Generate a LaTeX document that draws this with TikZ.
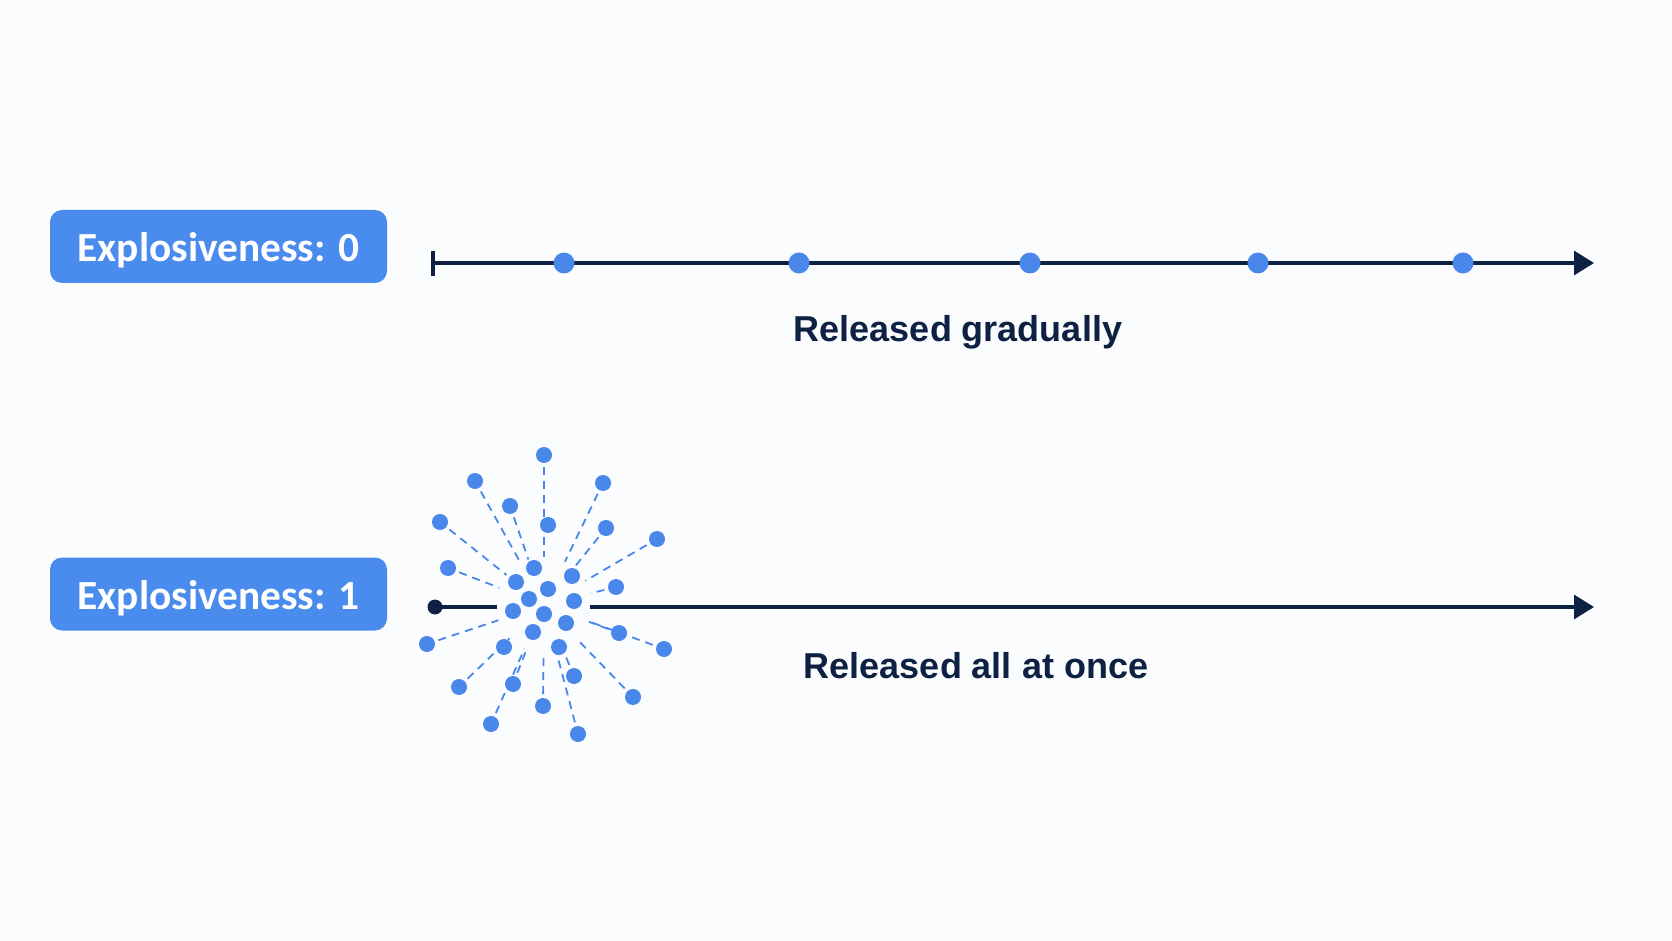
\documentclass[tikz,border=0pt]{standalone}
\usepackage{fontspec}
\setmainfont{Liberation Sans}
\newfontfamily\boxfont{Carlito}
\usetikzlibrary{arrows.meta,calc}
\definecolor{bgc}{HTML}{FBFCFE}
\definecolor{boxblue}{HTML}{4A8BEE}
\definecolor{dotblue}{HTML}{4A87EA}
\definecolor{navy}{HTML}{0F2142}
\tikzset{
  labelbox/.style={fill=boxblue, rounded corners=6pt, minimum width=168.5pt, minimum height=36.5pt, inner sep=0pt, text height=15pt, text depth=0pt, text=white, font=\boxfont\bfseries\fontsize{20.7}{24}\selectfont},
  bigdot/.style={circle, fill=dotblue, minimum size=10.5pt, inner sep=0pt},
  sdot/.style={circle, fill=dotblue, minimum size=8pt, inner sep=0pt},
  blackdot/.style={circle, fill=navy, minimum size=7.5pt, inner sep=0pt},
  axis/.style={draw=navy, line width=1.7pt},
  ray/.style={draw=dotblue, line width=0.9pt, dash pattern=on 4pt off 3pt},
  caption/.style={text=navy, font=\bfseries\fontsize{18}{20}\selectfont, anchor=base},
}
\begin{document}
\begin{tikzpicture}[x=0.5pt,y=-0.5pt]
\useasboundingbox (0,0) rectangle (1672,941);
\fill[bgc] (0,0) rectangle (1672,941);

% ---------- top row ----------
\node[labelbox] (b0) at (218.5,246.5) {Explosiveness: 0};
\coordinate (t1) at (433,251);
\coordinate (t2) at (433,276);
\coordinate (s0) at (433,263);
\coordinate (e0) at (1594,263);
\draw[axis] (t1) -- (t2);
\draw[axis, -{Triangle[length=10pt,width=12pt]}] (s0) -- (e0);
\foreach \i/\x in {1/564,2/799,3/1030,4/1258,5/1463}
  \node[bigdot] (g\i) at (\x,263) {};
\node[caption] (c0) at (958,342) {Released gradually};

% ---------- bottom row ----------
\node[labelbox] (b1) at (218.5,594) {Explosiveness: 1};
\node[blackdot] (bd) at (435,607) {};
\coordinate (h1) at (497,607);
\coordinate (h2) at (590,607);
\coordinate (e1) at (1594,607);
\draw[axis] (bd.center) -- (h1);
\draw[axis, -{Triangle[length=10pt,width=12pt]}] (h2) -- (e1);
\node[caption] (c1) at (976,678) {Released all at once};

% explosion
\coordinate (C) at (544,605);
% outer dots with rays
\foreach \n/\x/\y in {
  r1/544/455, r2/475/481, r3/603/483, r4/510/506, r6/606/528,
  r7/440/522, r8/657/539, r9/448/568, r14/616/587, r21/619/633,
  r22/427/644, r25/664/649, r26/574/676, r27/513/684, r28/459/687,
  r29/633/697, r30/543/706, r31/491/724, r32/578/734}{
  \node[sdot] (\n) at (\x,\y) {};
  \draw[ray] ($(\n)!6pt!(C)$) -- ($(C)!24pt!(\n)$);
}
% inner dots
\foreach \n/\x/\y in {
  i5/548/525, i10/534/568, i11/572/576, i12/516/582, i13/548/589,
  i15/529/599, i16/574/601, i17/513/611, i18/544/614, i19/566/623,
  i20/533/632, i23/504/647, i24/559/647}{
  \node[sdot] (\n) at (\x,\y) {};
}
\end{tikzpicture}
\end{document}
